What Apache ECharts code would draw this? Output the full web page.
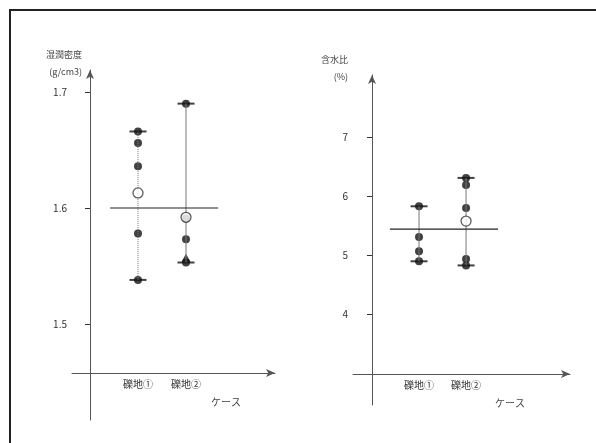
<!DOCTYPE html>
<html>
<head>
<meta charset="utf-8">
<script src="https://cdn.jsdelivr.net/npm/echarts@6/dist/echarts.min.js"></script>
<style>
  html, body { margin: 0; padding: 0; background: #fff; }
  #main { width: 596px; height: 443px; }
</style>
</head>
<body>
<div id="main"></div>
<script>
// categories
var cats = ['礫地①', '礫地②'];

// 湿潤密度 (g/cm3)
var densMax = [1.666, 1.690];
var densMin = [1.538, 1.553];
var densPts = [[1.656, 1.636, 1.578], [1.591, 1.573]];
var densTri = [null, 1.557];
var densMean = [1.613, 1.592];
var densAll = 1.600;
var densTicks = [1.5, 1.6, 1.7];

// 含水比 (%)
var wMax = [5.83, 6.31];
var wMin = [4.90, 4.83];
var wPts = [[5.31, 5.07], [6.19, 5.80, 4.94]];
var wMean = [null, 5.58];
var wAll = 5.445;
var wTicks = [4, 5, 6, 7];

var chart = echarts.init(document.getElementById('main'));

var font = 'Noto Sans CJK JP';
var axisGray = '#555';

function catLabel(v) {
  var i = Math.round(v) - 1;
  return cats[i] || '';
}

// build the series for one panel
function panel(idx, maxs, mins, pts, means, all, tri, span) {
  var out = [];
  for (var i = 0; i < cats.length; i++) {
    // vertical range line
    out.push({
      type: 'line', xAxisIndex: idx, yAxisIndex: idx, symbol: 'none', silent: true,
      lineStyle: { color: '#777', width: 1, type: idx === 0 && i === 0 ? 'dotted' : 'solid' },
      data: [[i + 1, mins[i]], [i + 1, maxs[i]]]
    });
  }
  // overall mean line
  out.push({
    type: 'line', xAxisIndex: idx, yAxisIndex: idx, symbol: 'none', silent: true,
    lineStyle: { color: '#222', width: 1.2 },
    data: [[span[0], all], [span[1], all]]
  });
  // caps
  var caps = [];
  for (var i = 0; i < cats.length; i++) {
    caps.push([i + 1, maxs[i]]);
    caps.push([i + 1, mins[i]]);
  }
  out.push({
    type: 'scatter', xAxisIndex: idx, yAxisIndex: idx, symbol: 'rect', symbolSize: [17, 2],
    itemStyle: { color: '#111' }, data: caps
  });
  // dots
  var dots = caps.slice();
  for (var i = 0; i < cats.length; i++) {
    pts[i].forEach(function (v) { dots.push([i + 1, v]); });
  }
  out.push({
    type: 'scatter', xAxisIndex: idx, yAxisIndex: idx, symbol: 'circle', symbolSize: 8,
    itemStyle: { color: '#111' }, data: dots
  });
  // triangle
  var tris = [];
  tri.forEach(function (v, i) { if (v != null) tris.push([i + 1, v]); });
  out.push({
    type: 'scatter', xAxisIndex: idx, yAxisIndex: idx, symbol: 'triangle', symbolSize: [9, 8],
    itemStyle: { color: '#111' }, data: tris
  });
  // mean (open circle)
  var mean = [];
  means.forEach(function (v, i) { if (v != null) mean.push([i + 1, v]); });
  out.push({
    type: 'scatter', xAxisIndex: idx, yAxisIndex: idx, symbol: 'circle', symbolSize: 10, z: 5,
    itemStyle: { color: '#fff', borderColor: '#333', borderWidth: 1.3 }, data: mean
  });
  return out;
}

function xAxisOpt(idx, min, max, offset, padRight) {
  return {
    gridIndex: idx, type: 'value', min: min, max: max, offset: offset,
    splitLine: { show: false },
    axisLine: { onZero: false, lineStyle: { color: axisGray, width: 1 }, symbol: ['none', 'arrow'], symbolSize: [6, 9] },
    axisTick: { show: false },
    axisLabel: { customValues: [1, 2], formatter: catLabel, color: '#333', fontSize: 10, fontFamily: font, margin: 6 },
    name: 'ケース', nameLocation: 'end', nameGap: 0,
    nameTextStyle: { color: '#444', fontSize: 10, fontFamily: font, align: 'right', verticalAlign: 'top', padding: [24, padRight, 0, 0] }
  };
}

function yAxisOpt(idx, min, max, ticks, name, padRight) {
  return {
    gridIndex: idx, type: 'value', min: min, max: max,
    splitLine: { show: false },
    axisLine: { onZero: true, lineStyle: { color: axisGray, width: 1 }, symbol: ['none', 'arrow'], symbolSize: [6, 9] },
    axisTick: { customValues: ticks, length: 5, lineStyle: { color: '#333' } },
    axisLabel: { customValues: ticks, color: '#333', fontSize: 10, fontFamily: font, margin: 5 },
    name: name, nameLocation: 'end', nameGap: 7,
    nameTextStyle: { color: '#444', fontSize: 9, fontFamily: font, align: 'right', verticalAlign: 'middle', lineHeight: 17, padding: [0, padRight, 0, 0] }
  };
}

var option = {
  animation: false,
  backgroundColor: '#fff',
  grid: [
    { left: 72, right: 321, top: 70, bottom: 23 },
    { left: 353, right: 26, top: 75, bottom: 38 }
  ],
  xAxis: [
    xAxisOpt(0, -0.375, 3.854, -47, 34),
    xAxisOpt(1, -0.404, 4.21, -31, 45)
  ],
  yAxis: [
    yAxisOpt(0, 1.4172, 1.719, densTicks, '湿潤密度\n(g/cm3)', 8),
    yAxisOpt(1, 2.47, 8.05, wTicks, '含水比\n(%)', 24)
  ],
  graphic: [{
    type: 'polyline', silent: true,
    shape: { points: [[10, 443], [10, 10], [596, 10]] },
    style: { stroke: '#222', lineWidth: 2, fill: null }
  }],
  series: [].concat(
    panel(0, densMax, densMin, densPts, densMean, densAll, densTri, [0.42, 2.67]),
    panel(1, wMax, wMin, wPts, wMean, wAll, [null, null], [0.38, 2.68])
  )
};

chart.setOption(option);
</script>
</body>
</html>
